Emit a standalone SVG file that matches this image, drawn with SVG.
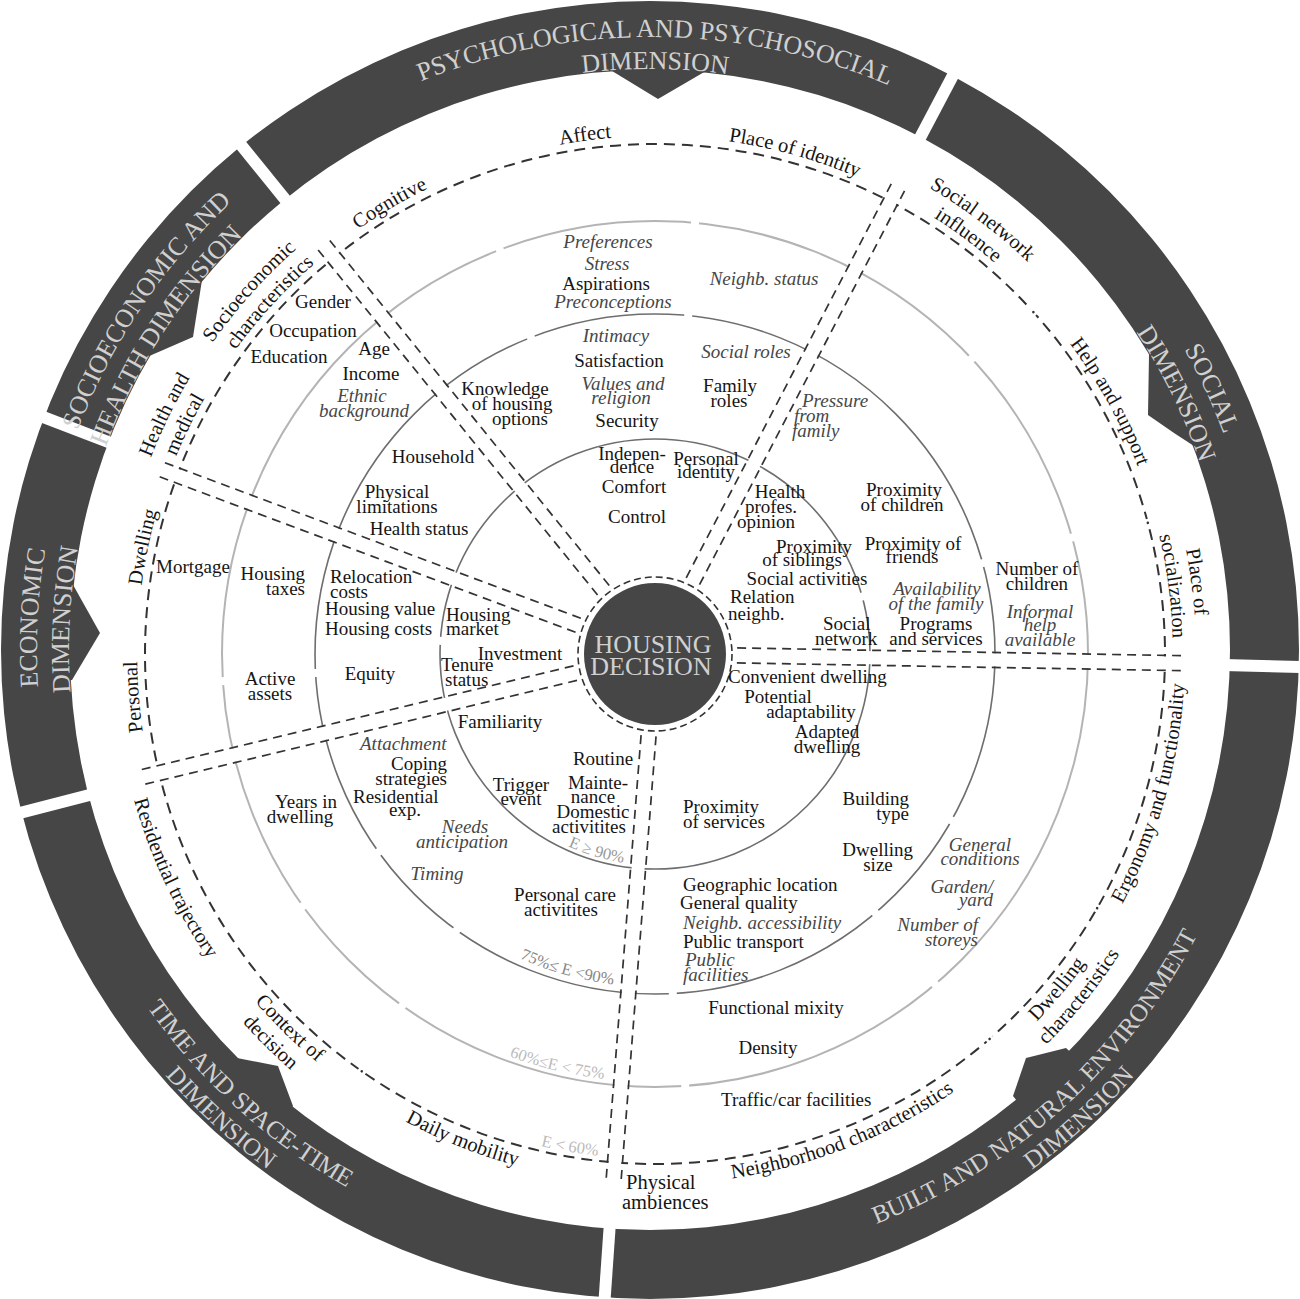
<svg xmlns="http://www.w3.org/2000/svg" xmlns:xlink="http://www.w3.org/1999/xlink" width="1300" height="1299" viewBox="0 0 1300 1299">
<style>
text{font-family:"Liberation Serif","Times New Roman",serif;font-size:19px;fill:#151515}
.i{font-style:italic;fill:#474747}
.m{text-anchor:middle}
.e{text-anchor:end}
.o{font-size:20.5px}
.bd{font-size:26px;fill:#d0d0d0}
.bl{font-size:25px}
.pe{font-size:16.5px}
.ring{fill:none}
.dv line{stroke:#333;stroke-width:1.7;stroke-dasharray:9 6}
.er line{stroke:#fff;stroke-width:13}
.ig line{stroke:#fff;stroke-width:8}
.bg line{stroke:#fff;stroke-width:12}
.tk line{stroke:#6e6e6e;stroke-width:1.6}
.tk line.c{stroke:#b4b4b4;stroke-width:2}
</style>
<defs>
<path id="b613" d="M650,1263 A613,613 0 1 1 650,37 A613,613 0 1 1 650,1263"/>
<path id="b581" d="M650,1231 A581,581 0 1 1 650,69 A581,581 0 1 1 650,1231"/>
<path id="c617" d="M650,33 A617,617 0 1 0 650,1267 A617,617 0 1 0 650,33"/>
<path id="c645" d="M650,5 A645,645 0 1 0 650,1295 A645,645 0 1 0 650,5"/>
<path id="l518" d="M655,1172 A518,518 0 1 1 655,136 A518,518 0 1 1 655,1172"/>
<path id="l541" d="M655,1195 A541,541 0 1 1 655,113 A541,541 0 1 1 655,1195"/>
<path id="k530" d="M655,124 A530,530 0 1 0 655,1184 A530,530 0 1 0 655,124"/>
<path id="k553" d="M655,101 A553,553 0 1 0 655,1207 A553,553 0 1 0 655,101"/>
<path id="k541" d="M655,113 A541,541 0 1 0 655,1195 A541,541 0 1 0 655,113"/>
<path id="k211" d="M655,443 A211,211 0 1 0 655,865 A211,211 0 1 0 655,443"/>
<path id="k333" d="M655,321 A333,333 0 1 0 655,987 A333,333 0 1 0 655,321"/>
<path id="k428" d="M655,226 A428,428 0 1 0 655,1082 A428,428 0 1 0 655,226"/>
<path id="k505" d="M655,149 A505,505 0 1 0 655,1159 A505,505 0 1 0 655,149"/>
<g id="tick">
<line x1="647.5" y1="439" x2="647.5" y2="433"/><line x1="662.5" y1="439" x2="662.5" y2="433"/>
<line x1="647.5" y1="314" x2="647.5" y2="308"/><line x1="662.5" y1="314" x2="662.5" y2="308"/>
<line class="c" x1="647.5" y1="221" x2="647.5" y2="215"/><line class="c" x1="662.5" y1="221" x2="662.5" y2="215"/>
</g>
</defs>
<rect width="1300" height="1299" fill="#fff"/>

<g id="dimension-band">
<path fill="#464646" fill-rule="evenodd" d="M1,650 A649,649 0 1 0 1299,650 A649,649 0 1 0 1,650 Z M70,650 A580,580 0 1 0 1230,650 A580,580 0 1 0 70,650 Z"/>
<polygon fill="#464646" points="202,280 193,337 147,357 131,348 187,268"/>
<polygon fill="#464646" points="609.6,69.4 658,99 706.4,70.7 708.1,52.8 608.4,51.4"/>
<polygon fill="#464646" points="1149,355 1148,415 1174,433 1194,446 1211.7,438.9 1166.4,344.6"/>
<polygon fill="#464646" points="72,583 100,633 72,680 50.8,681.4 54,581"/>
<polygon fill="#464646" points="237,1058 278,1066 293,1106 280.6,1122.8 223.5,1072"/>
<polygon fill="#464646" points="1066,1048 1026,1058 1013,1096 1028.4,1115.6 1083.8,1064.5"/>
<g class="bg">
<line x1="650" y1="115" x2="650" y2="-15" transform="rotate(321 650 650)"/>
<line x1="650" y1="115" x2="650" y2="-15" transform="rotate(27.8 650 650)"/>
<line x1="650" y1="115" x2="650" y2="-15" transform="rotate(91.5 650 650)"/>
<line x1="650" y1="115" x2="650" y2="-15" transform="rotate(184 650 650)"/>
<line x1="650" y1="115" x2="650" y2="-15" transform="rotate(255.5 650 650)"/>
<line x1="650" y1="115" x2="650" y2="-15" transform="rotate(291 650 650)"/>
</g>
</g>

<g id="band-titles">
<text class="bd m"><textPath xlink:href="#b613" startOffset="50.14%">PSYCHOLOGICAL AND PSYCHOSOCIAL</textPath></text>
<text class="bd m"><textPath xlink:href="#b581" startOffset="50.14%">DIMENSION</textPath></text>
<text class="bd m"><textPath xlink:href="#b613" startOffset="68.06%">SOCIAL</textPath></text>
<text class="bd m"><textPath xlink:href="#b581" startOffset="67.78%">DIMENSION</textPath></text>
<text class="bd m"><textPath xlink:href="#b613" startOffset="34.44%">SOCIOECONOMIC AND</textPath></text>
<text class="bd m"><textPath xlink:href="#b581" startOffset="34.17%">HEALTH DIMENSION</textPath></text>
<text class="bd m"><textPath xlink:href="#b613" startOffset="25.83%">ECONOMIC</textPath></text>
<text class="bd m"><textPath xlink:href="#b581" startOffset="25.83%">DIMENSION</textPath></text>
<text class="bd bl m"><textPath xlink:href="#c617" startOffset="38.33%">TIME AND SPACE-TIME</textPath></text>
<text class="bd bl m"><textPath xlink:href="#c645" startOffset="38.19%">DIMENSION</textPath></text>
<text class="bd bl m"><textPath xlink:href="#c617" startOffset="61.67%">BUILT AND NATURAL ENVIRONMENT</textPath></text>
<text class="bd bl m"><textPath xlink:href="#c645" startOffset="61.81%">DIMENSION</textPath></text>
</g>

<g id="rings">
<circle class="ring" cx="655" cy="654" r="215" stroke="#6e6e6e" stroke-width="1.6"/>
<circle class="ring" cx="655" cy="654" r="340" stroke="#6e6e6e" stroke-width="1.6"/>
<circle class="ring" cx="655" cy="654" r="433" stroke="#b4b4b4" stroke-width="2"/>
<circle class="ring" cx="655" cy="654" r="510" stroke="#333" stroke-width="2" stroke-dasharray="11 7"/>
<g class="ig">
<line x1="655" y1="433" x2="655" y2="445" transform="rotate(74.5 655 654)"/>
<line x1="655" y1="433" x2="655" y2="445" transform="rotate(273.5 655 654)"/>
<line x1="655" y1="308" x2="655" y2="320" transform="rotate(338.6 655 654)"/>
<line x1="655" y1="308" x2="655" y2="320" transform="rotate(5.6 655 654)"/>
<line x1="655" y1="308" x2="655" y2="320" transform="rotate(74.5 655 654)"/>
<line x1="655" y1="308" x2="655" y2="320" transform="rotate(119.3 655 654)"/>
<line x1="655" y1="308" x2="655" y2="320" transform="rotate(139.6 655 654)"/>
<line x1="655" y1="308" x2="655" y2="320" transform="rotate(177 655 654)"/>
<line x1="655" y1="308" x2="655" y2="320" transform="rotate(215.7 655 654)"/>
<line x1="655" y1="308" x2="655" y2="320" transform="rotate(234.4 655 654)"/>
<line x1="655" y1="308" x2="655" y2="320" transform="rotate(266.8 655 654)"/>
<line x1="655" y1="215" x2="655" y2="227" transform="rotate(339 655 654)"/>
<line x1="655" y1="215" x2="655" y2="227" transform="rotate(5.3 655 654)"/>
<line x1="655" y1="215" x2="655" y2="227" transform="rotate(47 655 654)"/>
<line x1="655" y1="215" x2="655" y2="227" transform="rotate(74.4 655 654)"/>
<line x1="655" y1="215" x2="655" y2="227" transform="rotate(139.7 655 654)"/>
<line x1="655" y1="215" x2="655" y2="227" transform="rotate(176 655 654)"/>
<line x1="655" y1="215" x2="655" y2="227" transform="rotate(215.7 655 654)"/>
<line x1="655" y1="215" x2="655" y2="227" transform="rotate(234.4 655 654)"/>
<line x1="655" y1="215" x2="655" y2="227" transform="rotate(266.4 655 654)"/>
<line x1="655" y1="138" x2="655" y2="150" transform="rotate(47.9 655 654)"/>
<line x1="655" y1="138" x2="655" y2="150" transform="rotate(75.1 655 654)"/>
<line x1="655" y1="138" x2="655" y2="150" transform="rotate(119.9 655 654)"/>
<line x1="655" y1="138" x2="655" y2="150" transform="rotate(139 655 654)"/>
<line x1="655" y1="138" x2="655" y2="150" transform="rotate(215.1 655 654)"/>
</g>
<g fill="#333">
<circle cx="655" cy="144" r="1.3" transform="rotate(47.9 655 654)"/>
<circle cx="655" cy="144" r="1.3" transform="rotate(75.1 655 654)"/>
<circle cx="655" cy="144" r="1.3" transform="rotate(119.9 655 654)"/>
<circle cx="655" cy="144" r="1.3" transform="rotate(139 655 654)"/>
<circle cx="655" cy="144" r="1.3" transform="rotate(215.1 655 654)"/>
</g>
<g class="er">
<line x1="655" y1="574" x2="655" y2="118" transform="rotate(321 655 654)"/>
<line x1="655" y1="574" x2="655" y2="118" transform="rotate(27.5 655 654)"/>
<line x1="655" y1="574" x2="655" y2="118" transform="rotate(91 655 654)"/>
<line x1="655" y1="574" x2="655" y2="118" transform="rotate(184.5 655 654)"/>
<line x1="655" y1="574" x2="655" y2="118" transform="rotate(256.5 655 654)"/>
<line x1="655" y1="574" x2="655" y2="118" transform="rotate(290.5 655 654)"/>
</g>
<g class="tk">
<use xlink:href="#tick" transform="rotate(321 655 654)"/>
<use xlink:href="#tick" transform="rotate(27.5 655 654)"/>
<use xlink:href="#tick" transform="rotate(91 655 654)"/>
<use xlink:href="#tick" transform="rotate(184.5 655 654)"/>
<use xlink:href="#tick" transform="rotate(256.5 655 654)"/>
<use xlink:href="#tick" transform="rotate(290.5 655 654)"/>
</g>
</g>

<g id="connectors" class="dv">
<g transform="rotate(321 655 654)"><line x1="647.5" y1="572" x2="647.5" y2="122"/><line x1="662.5" y1="572" x2="662.5" y2="122"/></g>
<g transform="rotate(27.5 655 654)"><line x1="647.5" y1="572" x2="647.5" y2="122"/><line x1="662.5" y1="572" x2="662.5" y2="122"/></g>
<g transform="rotate(91 655 654)"><line x1="647.5" y1="572" x2="647.5" y2="122"/><line x1="662.5" y1="572" x2="662.5" y2="122"/></g>
<g transform="rotate(184.5 655 654)"><line x1="647.5" y1="572" x2="647.5" y2="122"/><line x1="662.5" y1="572" x2="662.5" y2="122"/></g>
<g transform="rotate(256.5 655 654)"><line x1="647.5" y1="572" x2="647.5" y2="122"/><line x1="662.5" y1="572" x2="662.5" y2="122"/></g>
<g transform="rotate(290.5 655 654)"><line x1="647.5" y1="572" x2="647.5" y2="122"/><line x1="662.5" y1="572" x2="662.5" y2="122"/></g>
</g>

<g id="housing-decision">
<circle cx="655" cy="654" r="71" fill="#464646"/>
<circle cx="655" cy="654" r="77" fill="none" stroke="#333" stroke-width="1.6" stroke-dasharray="7 4"/>
<text class="bd m" x="653" y="653">HOUSING</text>
<text class="bd m" x="651" y="675">DECISION</text>
</g>

<g id="psychological">
<text class="o"><textPath xlink:href="#l518" startOffset="47.86%" text-anchor="middle">Affect</textPath></text>
<text class="o"><textPath xlink:href="#l518" startOffset="54.33%" text-anchor="middle">Place of identity</textPath></text>
<text class="o"><textPath xlink:href="#l518" startOffset="41.53%" text-anchor="middle">Cognitive</textPath></text>
<text class="i m" x="608" y="248">Preferences</text>
<text class="i m" x="607" y="270">Stress</text>
<text class="m" x="606" y="290">Aspirations</text>
<text class="i m" x="613" y="308">Preconceptions</text>
<text class="i m" x="764" y="285">Neighb. status</text>
<text class="i m" x="616" y="342">Intimacy</text>
<text class="m" x="619" y="367">Satisfaction</text>
<text class="i m" x="623" y="390">Values and</text>
<text class="i m" x="621" y="404">religion</text>
<text class="m" x="627" y="427">Security</text>
<text class="i m" x="746" y="358">Social roles</text>
<text class="m" x="730" y="392">Family</text>
<text class="m" x="729" y="407">roles</text>
<text class="m" x="505" y="395">Knowledge</text>
<text class="m" x="512" y="410">of housing</text>
<text class="m" x="520" y="425">options</text>
<text class="i" x="802" y="407">Pressure</text>
<text class="i" x="794" y="422">from</text>
<text class="i" x="792" y="437">family</text>
<text class="m" x="632" y="460">Indepen-</text>
<text class="m" x="632" y="473">dence</text>
<text class="m" x="634" y="493">Comfort</text>
<text class="m" x="637" y="523">Control</text>
<text class="m" x="706" y="465">Personal</text>
<text class="m" x="706" y="478">identity</text>
</g>

<g id="socioeconomic">
<text class="o"><textPath xlink:href="#l541" startOffset="32.22%" text-anchor="middle">Health and</textPath></text>
<text class="o"><textPath xlink:href="#l518" startOffset="32.22%" text-anchor="middle">medical</textPath></text>
<text class="o"><textPath xlink:href="#l541" startOffset="36.61%" text-anchor="middle">Socioeconomic</textPath></text>
<text class="o"><textPath xlink:href="#l518" startOffset="36.78%" text-anchor="middle">characteristics</textPath></text>
<text class="m" x="323" y="308">Gender</text>
<text class="m" x="313" y="337">Occupation</text>
<text class="m" x="289" y="363">Education</text>
<text class="m" x="374" y="355">Age</text>
<text class="m" x="371" y="380">Income</text>
<text class="i m" x="362" y="402">Ethnic</text>
<text class="i m" x="364" y="417">background</text>
<text class="m" x="433" y="463">Household</text>
<text class="m" x="397" y="498">Physical</text>
<text class="m" x="397" y="513">limitations</text>
<text class="m" x="419" y="535">Health status</text>
</g>

<g id="social">
<text class="o"><textPath xlink:href="#l541" startOffset="60.28%" text-anchor="middle">Social network</textPath></text>
<text class="o"><textPath xlink:href="#l518" startOffset="60.22%" text-anchor="middle">influence</textPath></text>
<text class="o"><textPath xlink:href="#l518" startOffset="66.94%" text-anchor="middle">Help and support</textPath></text>
<text class="o"><textPath xlink:href="#l541" startOffset="72.89%" text-anchor="middle">Place of</textPath></text>
<text class="o"><textPath xlink:href="#l518" startOffset="72.92%" text-anchor="middle">socialization</textPath></text>
<text class="m" x="780" y="498">Health</text>
<text class="m" x="771" y="513">profes.</text>
<text class="m" x="766" y="528">opinion</text>
<text class="m" x="814" y="553">Proximity</text>
<text class="m" x="802" y="566">of siblings</text>
<text class="m" x="807" y="585">Social activities</text>
<text x="730" y="603">Relation</text>
<text x="728" y="620">neighb.</text>
<text x="823" y="630">Social</text>
<text x="815" y="645">network</text>
<text class="m" x="904" y="496">Proximity</text>
<text class="m" x="902" y="511">of children</text>
<text class="m" x="913" y="550">Proximity of</text>
<text class="m" x="912" y="563">friends</text>
<text class="i m" x="937" y="595">Availability</text>
<text class="i m" x="936" y="610">of the family</text>
<text class="m" x="936" y="630">Programs</text>
<text class="m" x="936" y="645">and services</text>
<text class="m" x="1037" y="575">Number of</text>
<text class="m" x="1037" y="590">children</text>
<text class="i m" x="1040" y="618">Informal</text>
<text class="i m" x="1040" y="631">help</text>
<text class="i m" x="1040" y="646">available</text>
</g>

<g id="economic">
<text class="o"><textPath xlink:href="#l518" startOffset="23.69%" text-anchor="middle">Personal</textPath></text>
<text class="o"><textPath xlink:href="#l518" startOffset="28.28%" text-anchor="middle">Dwelling</textPath></text>
<text class="m" x="193" y="573">Mortgage</text>
<text class="e" x="305" y="580">Housing</text>
<text class="e" x="305" y="595">taxes</text>
<text x="330" y="583">Relocation</text>
<text x="330" y="598">costs</text>
<text x="325" y="615">Housing value</text>
<text x="325" y="635">Housing costs</text>
<text class="m" x="370" y="680">Equity</text>
<text class="m" x="270" y="685">Active</text>
<text class="m" x="270" y="700">assets</text>
<text x="446" y="621">Housing</text>
<text x="446" y="635">market</text>
<text class="m" x="520" y="660">Investment</text>
<text x="441" y="671">Tenure</text>
<text x="445" y="686">status</text>
</g>

<g id="time-space">
<text class="o"><textPath xlink:href="#k530" startOffset="44%" text-anchor="middle">Daily mobility</textPath></text>
<text class="o"><textPath xlink:href="#k530" startOffset="37.69%" text-anchor="middle">Context of</textPath></text>
<text class="o"><textPath xlink:href="#k553" startOffset="37.58%" text-anchor="middle">decision</textPath></text>
<text class="o"><textPath xlink:href="#k541" startOffset="31.94%" text-anchor="middle">Residential trajectory</textPath></text>
<text class="i" x="360" y="750">Attachment</text>
<text class="e" x="447" y="770">Coping</text>
<text class="e" x="447" y="785">strategies</text>
<text x="353" y="803">Residential</text>
<text class="m" x="405" y="816">exp.</text>
<text class="m" x="306" y="808">Years in</text>
<text class="m" x="300" y="823">dwelling</text>
<text class="i m" x="465" y="833">Needs</text>
<text class="i m" x="462" y="848">anticipation</text>
<text class="i m" x="437" y="880">Timing</text>
<text class="m" x="500" y="728">Familiarity</text>
<text class="m" x="521" y="791">Trigger</text>
<text class="m" x="521" y="805">event</text>
<text class="m" x="603" y="765">Routine</text>
<text class="m" x="598" y="789">Mainte-</text>
<text class="m" x="593" y="803">nance</text>
<text class="m" x="593" y="818">Domestic</text>
<text class="m" x="589" y="833">activitites</text>
<text class="m" x="565" y="901">Personal care</text>
<text class="m" x="561" y="916">activitites</text>
</g>

<g id="built-environment">
<text class="o"><textPath xlink:href="#k530" startOffset="70.64%" text-anchor="middle">Ergonomy and functionality</textPath></text>
<text class="o"><textPath xlink:href="#k530" startOffset="63.94%" text-anchor="middle">Dwelling</textPath></text>
<text class="o"><textPath xlink:href="#k553" startOffset="64.19%" text-anchor="middle">characteristics</textPath></text>
<text class="o"><textPath xlink:href="#k530" startOffset="55.94%" text-anchor="middle">Neighborhood characteristics</textPath></text>
<text class="o" x="626" y="1189">Physical</text>
<text class="o" x="622" y="1209">ambiences</text>
<text x="728" y="683">Convenient dwelling</text>
<text class="m" x="778" y="703">Potential</text>
<text class="m" x="811" y="718">adaptability</text>
<text class="m" x="827" y="738">Adapted</text>
<text class="m" x="827" y="753">dwelling</text>
<text x="683" y="813">Proximity</text>
<text x="683" y="828">of services</text>
<text class="e" x="909" y="805">Building</text>
<text class="e" x="909" y="820">type</text>
<text class="e" x="913" y="856">Dwelling</text>
<text class="m" x="878" y="871">size</text>
<text class="i m" x="980" y="851">General</text>
<text class="i m" x="980" y="865">conditions</text>
<text class="i e" x="993" y="893">Garden/</text>
<text class="i e" x="993" y="906">yard</text>
<text class="i e" x="978" y="931">Number of</text>
<text class="i e" x="978" y="946">storeys</text>
<text x="683" y="891">Geographic location</text>
<text x="680" y="909">General quality</text>
<text class="i" x="683" y="929">Neighb. accessibility</text>
<text x="683" y="948">Public transport</text>
<text class="i" x="685" y="966">Public</text>
<text class="i" x="683" y="981">facilities</text>
<text class="m" x="776" y="1014">Functional mixity</text>
<text class="m" x="768" y="1054">Density</text>
<text x="721" y="1106">Traffic/car facilities</text>
</g>

<g id="effect-levels">
<text class="pe" style="fill:#999"><textPath xlink:href="#k211" startOffset="45.42%" text-anchor="middle">E ≥ 90%</textPath></text>
<text class="pe" style="fill:#888"><textPath xlink:href="#k333" startOffset="45.67%" text-anchor="middle">75%≤ E &lt;90%</textPath></text>
<text class="pe" style="fill:#bbb"><textPath xlink:href="#k428" startOffset="46.28%" text-anchor="middle">60%≤E &lt; 75%</textPath></text>
<text class="pe" style="fill:#bbb"><textPath xlink:href="#k505" startOffset="47.28%" text-anchor="middle">E &lt; 60%</textPath></text>
</g>
</svg>
